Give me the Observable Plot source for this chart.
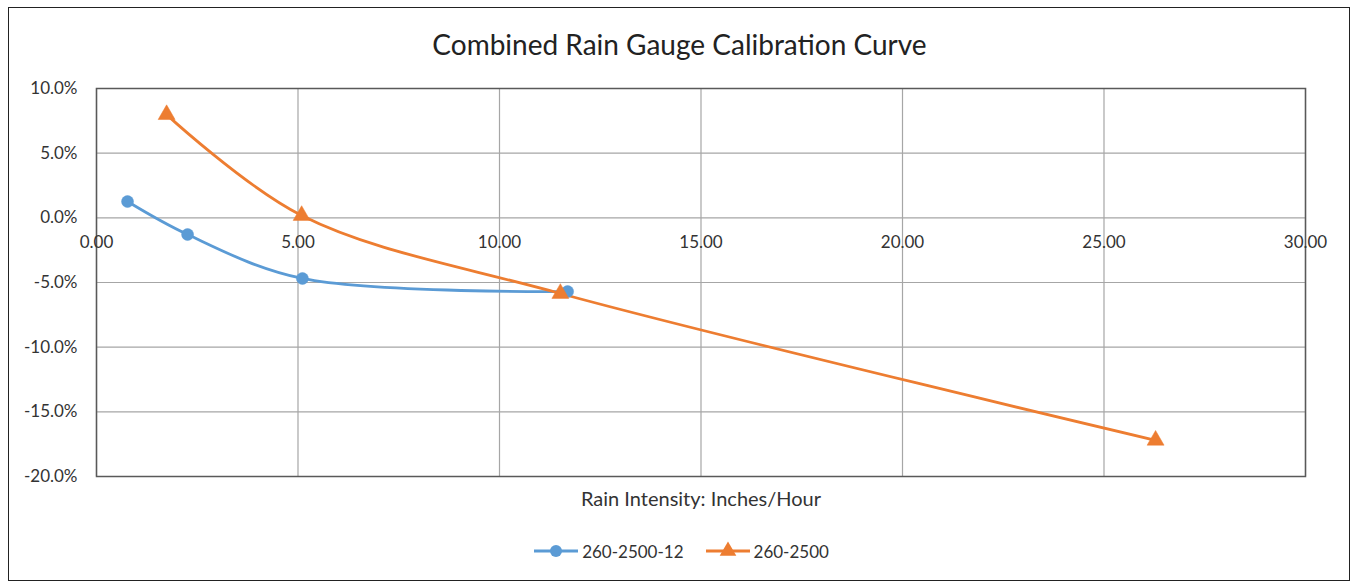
<!DOCTYPE html>
<html>
<head>
<meta charset="utf-8">
<script src="https://cdn.jsdelivr.net/npm/d3@7"></script>
<script src="https://cdn.jsdelivr.net/npm/@observablehq/plot@0.6"></script>
<style>
  html, body { margin: 0; padding: 0; background: #fff; }
  body { width: 1351px; height: 582px; position: relative; overflow: hidden; font-family: Lato, "Open Sans", sans-serif; }
  #border { position: absolute; left: 8px; top: 7px; width: 1340px; height: 572px; border: 1.5px solid #222; box-sizing: content-box; }
  #title { position: absolute; left: 0; width: 1351px; top: 27px; text-align: center; font-size: 28px; color: #222; margin-left: 4px; }
  #chart { position: absolute; left: 0; top: 0; }
  #legend { position: absolute; top: 540px; left: 0; width: 1351px; display: flex; justify-content: center; gap: 22px; font-size: 17px; color: #333; margin-left: 6px; }
  .item { display: flex; align-items: center; gap: 4px; }
</style>
</head>
<body>
<div id="border"></div>
<div id="title">Combined Rain Gauge Calibration Curve</div>
<div id="chart"></div>
<div id="legend"></div>
<script>
// Data
const seriesNames = ["260-2500-12", "260-2500"];
const seriesColors = ["#5B9BD5", "#ED7D31"];
const blueX = [0.77, 2.26, 5.11, 11.69];
const blueY = [0.0126, -0.0129, -0.0469, -0.0570];
const orangeX = [1.74, 5.09, 11.51, 26.28];
const orangeY = [0.0798, 0.0018, -0.0585, -0.1720];
const xTicks = [0, 5, 10, 15, 20, 25, 30];
const yTicks = [0.10, 0.05, 0, -0.05, -0.10, -0.15, -0.20];

const blue = blueX.map((x, i) => ({x, y: blueY[i], s: seriesNames[0]}));
const orange = orangeX.map((x, i) => ({x, y: orangeY[i], s: seriesNames[1]}));

const font = "Lato, 'Open Sans', sans-serif";

const chart = Plot.plot({
  width: 1351,
  height: 582,
  marginLeft: 96,
  marginRight: 46,
  marginTop: 88,
  marginBottom: 106,
  style: { fontFamily: font, fontSize: "17px", color: "#333", background: "transparent", overflow: "visible" },
  x: { domain: [0, 30], ticks: xTicks },
  y: { domain: [-0.20, 0.10], ticks: yTicks },
  marks: [
    Plot.gridX(xTicks, { stroke: "#a6a6a6", strokeOpacity: 1, strokeWidth: 1.2 }),
    Plot.gridY(yTicks, { stroke: "#a6a6a6", strokeOpacity: 1, strokeWidth: 1.2 }),
    Plot.frame({ stroke: "#595959", strokeWidth: 1.5 }),
    Plot.axisY(yTicks, { tickSize: 0, tickPadding: 19, tickFormat: d => (d * 100).toFixed(1) + "%", fontSize: 17, fill: "#333", label: null }),
    Plot.text(xTicks, { x: d => d, y: d => 0, dy: 25, text: d => d.toFixed(2), fontSize: 17, fill: "#333" }),
    Plot.axisX({ ticks: [], label: null }),
    Plot.text(["Rain Intensity: Inches/Hour"], { frameAnchor: "bottom", dy: 29, text: d => d, fontSize: 20, fill: "#333" }),
    Plot.line(blue, { x: "x", y: "y", stroke: seriesColors[0], strokeWidth: 2.8, curve: "catmull-rom" }),
    Plot.line(orange, { x: "x", y: "y", stroke: seriesColors[1], strokeWidth: 2.8, curve: "catmull-rom" }),
    Plot.dot(blue, { x: "x", y: "y", r: 6, fill: seriesColors[0], stroke: seriesColors[0], strokeWidth: 0.5 }),
    Plot.dot(orange, { x: "x", y: "y", r: 6.3, symbol: "triangle", fill: seriesColors[1], stroke: seriesColors[1], strokeWidth: 0.5 })
  ]
});
document.getElementById("chart").appendChild(chart);

// Legend
const legend = document.getElementById("legend");
const symbols = ["circle", "triangle"];
seriesNames.forEach((name, i) => {
  const item = document.createElement("div");
  item.className = "item";
  const sym = symbols[i] === "circle"
    ? `<circle cx="22" cy="11" r="6" fill="${seriesColors[i]}"/>`
    : `<path transform="translate(22,11)" d="${d3.symbol(d3.symbolTriangle, 120)()}" fill="${seriesColors[i]}"/>`;
  item.innerHTML = `<svg width="44" height="22"><line x1="0" x2="44" y1="11" y2="11" stroke="${seriesColors[i]}" stroke-width="3"/>${sym}</svg><span>${name}</span>`;
  legend.appendChild(item);
});
</script>
</body>
</html>
